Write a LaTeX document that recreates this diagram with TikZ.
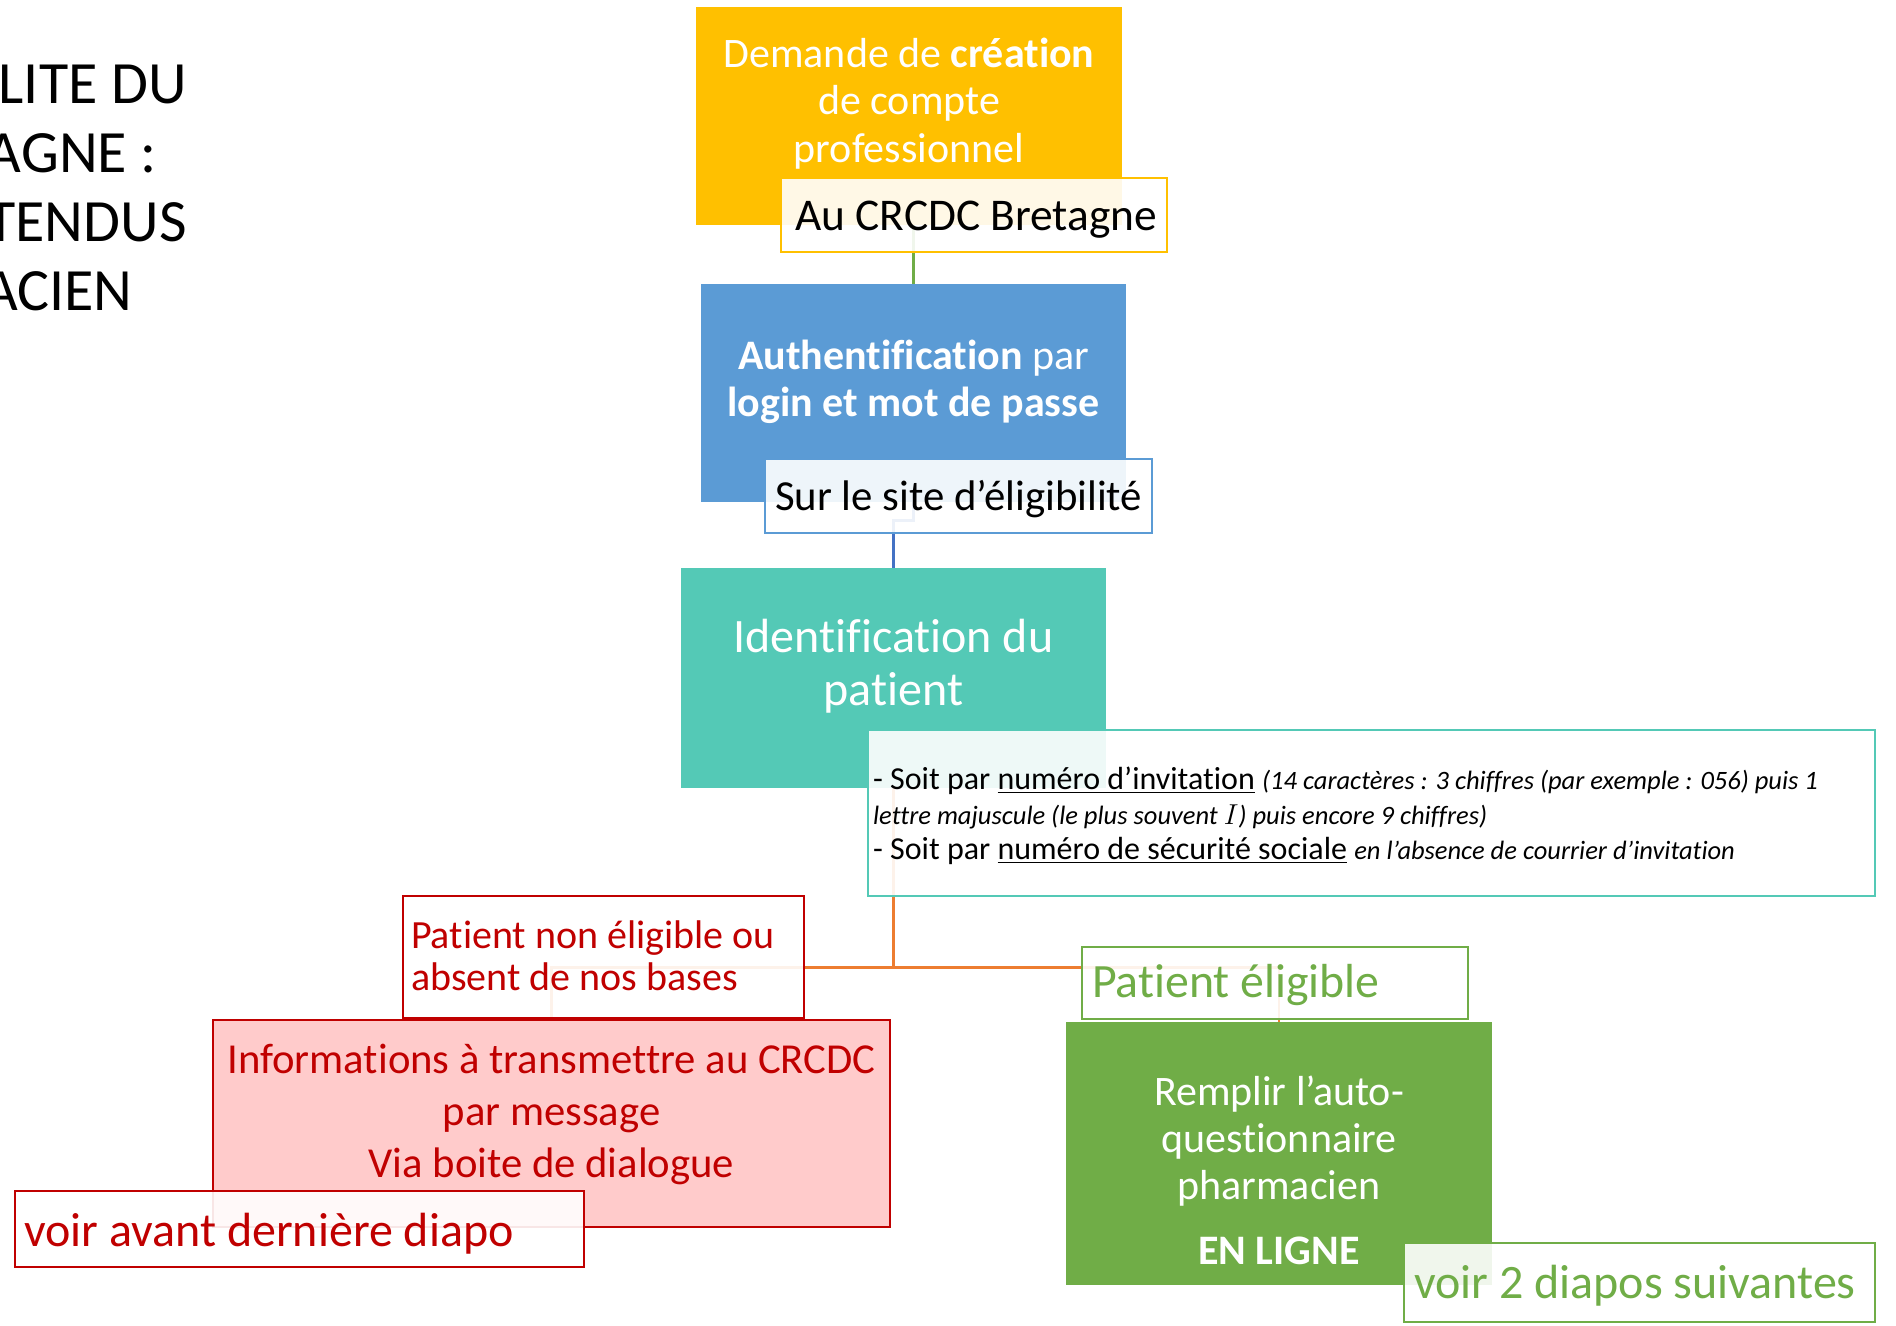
\documentclass[tikz,border=0pt]{standalone}
\usepackage{fontspec}
\setmainfont{Carlito}[Ligatures={TeX,NoCommon}]
\usetikzlibrary{calc}
\definecolor{cOrange}{HTML}{FFC000}
\definecolor{cBlue}{HTML}{5B9BD5}
\definecolor{cTeal}{HTML}{54C9B6}
\definecolor{cRed}{HTML}{C00000}
\definecolor{cPink}{HTML}{FFCBCB}
\definecolor{cGreen}{HTML}{70AD47}
\definecolor{cLineOrange}{HTML}{ED7D31}
\definecolor{cLineBlue}{HTML}{4472C4}
\newcommand\CLines[2]{\vtop{\baselineskip=#1\lineskiplimit=-1000pt\lineskip=0pt\relax\halign{\hfil##\hfil\cr#2\crcr}}}
\newcommand\LLines[2]{\vtop{\baselineskip=#1\lineskiplimit=-1000pt\lineskip=0pt\relax\halign{##\hfil\cr#2\crcr}}}
\newcommand\smit{\fontsize{13.25pt}{15pt}\selectfont\itshape}
\newcommand\fsz[1]{\fontsize{#1}{#1}\selectfont}
\begin{document}
\begin{tikzpicture}[x=0.5pt,y=-0.5pt,
  mainbox/.style={rectangle, draw=none, inner sep=0pt},
  labelbox/.style={rectangle, fill=white, fill opacity=0.9, text opacity=1, line width=1.25pt, inner sep=0pt},
  txt/.style={inner sep=0pt},
  conn/.style={line width=1.25pt}]
\useasboundingbox (0,0) rectangle (1896,1326);
\clip (0,0) rectangle (1896,1326);
\fill[white] (0,0) rectangle (1896,1326);

% title (cut at the left edge, as in the reference)
\node[txt, anchor=base east, font=\fsz{30pt}] (t1) at (187,104) {LITE DU};
\node[txt, anchor=base east, font=\fsz{30pt}] (t2) at (157,173) {AGNE :};
\node[txt, anchor=base east, font=\fsz{30pt}] (t3) at (187,242) {TENDUS};
\node[txt, anchor=base east, font=\fsz{30pt}] (t4) at (133,311) {ACIEN};

% main boxes
\node[mainbox, fill=cOrange, minimum width=213pt, minimum height=109pt] (orange) at (909,116) {};
\node[mainbox, fill=cBlue, minimum width=212.5pt, minimum height=109pt] (blue) at (913.5,393) {};
\node[mainbox, fill=cTeal, minimum width=212.5pt, minimum height=110pt] (teal) at (893.5,678) {};
\node[mainbox, fill=cPink, draw=cRed, line width=1.25pt, minimum width=338.5pt, minimum height=103.5pt] (redfill) at (551.5,1123.5) {};
\node[mainbox, fill=cGreen, minimum width=213pt, minimum height=131.5pt] (greenbox) at (1279,1153.5) {};

% main texts
\node[txt, anchor=base, white, font=\fsz{21pt}] (orangeT) at ($(orange.north)+(0,60.5)$)
  {\CLines{23.75pt}{Demande de \textbf{création}\cr de compte\cr professionnel}};
\node[txt, anchor=base, white, font=\fsz{21pt}] (blueT) at ($(blue.north)+(0,85.5)$)
  {\CLines{23.5pt}{\textbf{Authentification} par\cr \textbf{login et mot de passe}}};
\node[txt, anchor=base, white, font=\fsz{24pt}] (tealT) at ($(teal.north)+(0,84.5)$)
  {\CLines{26.5pt}{Identification du\cr patient}};
\node[txt, anchor=base, cRed, font=\fsz{21.35pt}] (redfillT) at ($(redfill.north)+(0,54.5)$)
  {\CLines{26pt}{Informations à transmettre au CRCDC\cr par message\cr Via boite de dialogue}};
\node[txt, anchor=base, white, font=\fsz{21pt}] (greenT) at ($(greenbox.north)+(0,83.5)$)
  {\CLines{23.5pt}{Remplir l’auto-\cr questionnaire\cr pharmacien\cr\noalign{\vskip 9pt}\textbf{EN LIGNE}}};

% connectors
\draw[conn, cGreen] (blue.north) -- (blue.north |- orange.south);
\draw[conn, cLineBlue] (blue.south) -- ++(0,18) -| (teal.north);
\coordinate (split) at ($(teal.south)+(0,179)$);
\draw[conn, cLineOrange] (teal.south) -- (split) -| (redfill.north);
\draw[conn, cLineOrange] (split) -| (greenbox.north);

% label boxes
\node[labelbox, draw=cOrange, minimum width=193pt, minimum height=37pt] (crcdc) at (974,215) {};
\node[labelbox, draw=cBlue, minimum width=193.5pt, minimum height=37pt] (site) at (958.5,496) {};
\node[labelbox, draw=cTeal, minimum width=503.5pt, minimum height=83pt] (ident) at (1371.5,813) {};
\node[labelbox, draw=cRed, minimum width=200.5pt, minimum height=61pt] (nonelig) at (603.5,957) {};
\node[labelbox, draw=cRed, minimum width=284.5pt, minimum height=38pt] (avant) at (299.5,1229) {};
\node[labelbox, draw=cGreen, minimum width=193pt, minimum height=36pt] (elig) at (1275,983) {};
\node[labelbox, draw=cGreen, minimum width=235.5pt, minimum height=39.5pt] (suiv) at (1639.5,1282.5) {};

% label texts
\node[txt, anchor=base west, font=\fsz{22.7pt}] (crcdcT) at ($(crcdc.west)+(15,15.5)$) {Au CRCDC Bretagne};
\node[txt, anchor=base west, font=\fsz{21.4pt}] (siteT) at ($(site.west)+(11,14.5)$) {Sur le site d’éligibilité};
\node[txt, anchor=base west, font=\fsz{16pt}] (identT) at ($(ident.west)+(6,-24)$)
  {\LLines{17.5pt}{- Soit par \underline{numéro d’invitation} {\smit (14 caractères : 3 chiffres (par exemple : 056) puis 1}\cr
   {\smit lettre majuscule (le plus souvent $I$) puis encore 9 chiffres)}\cr
   - Soit par \underline{numéro de sécurité sociale} {\smit en l’absence de courrier d’invitation}}};
\node[txt, anchor=base west, cRed, font=\fsz{20pt}] (noneligT) at ($(nonelig.west)+(9,-8.5)$)
  {\LLines{21pt}{Patient non éligible ou\cr absent de nos bases}};
\node[txt, anchor=base west, cRed, font=\fsz{24pt}] (avantT) at ($(avant.west)+(10,17.5)$) {voir avant dernière diapo};
\node[txt, anchor=base west, cGreen, font=\fsz{23.9pt}] (eligT) at ($(elig.west)+(11,14.5)$) {Patient éligible};
\node[txt, anchor=base west, cGreen, font=\fsz{24pt}] (suivT) at ($(suiv.west)+(11,16)$) {voir 2 diapos suivantes};
\end{tikzpicture}
\end{document}
